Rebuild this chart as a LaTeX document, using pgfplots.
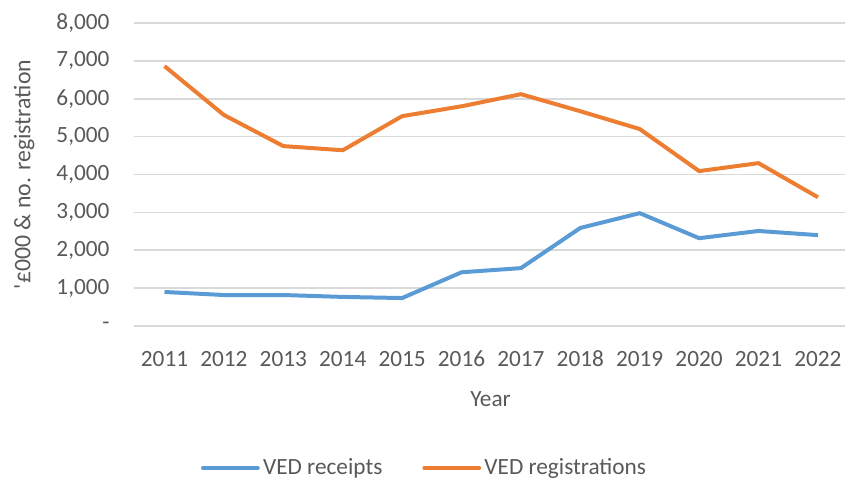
\documentclass[border=0pt]{standalone}
\usepackage{pgfplots}
\pgfplotsset{compat=1.18}
\usepackage{fontspec}
\setmainfont{Carlito}
\definecolor{cblue}{HTML}{5B9BD5}
\definecolor{corange}{HTML}{ED7D31}
\definecolor{cgrid}{HTML}{D9D9D9}
\definecolor{ctext}{HTML}{595959}
\newcommand{\fs}{\fontsize{14}{17}\selectfont}
\newcommand{\fsl}{\fontsize{14.3}{17}\selectfont}
\begin{document}
\begin{tikzpicture}
\begin{axis}[
  scale only axis,
  width=427.8pt, height=182.4pt,
  xmin=2010.48, xmax=2022.45,
  ymin=0, ymax=8000,
  xtick={2011,...,2022},
  xticklabels={2011,2012,2013,2014,2015,2016,2017,2018,2019,2020,2021,2022},
  ytick={0,1000,...,8000},
  yticklabels={{-},{1,000},{2,000},{3,000},{4,000},{5,000},{6,000},{7,000},{8,000}},
  axis line style={draw=none},
  major tick style={draw=none},
  ymajorgrids,
  grid style={cgrid, line width=1pt},
  ticklabel style={font=\fs, text=ctext},
  xticklabel style={yshift=-11pt, text height=10pt, text depth=0pt},
  yticklabel style={xshift=-11pt},
  xlabel={Year},
  ylabel={\textquotesingle£000 \& no. registration},
  label style={font=\fs, text=ctext},
  xlabel style={at={(axis description cs:0.502,-0.241)}, anchor=center},
  ylabel style={font=\fsl, at={(axis description cs:-0.154,0.5)}, anchor=center},
  legend columns=2,
  legend style={at={(0.41,-0.468)}, anchor=center, draw=none, font=\fs, text=ctext,
    /tikz/every even column/.append style={column sep=22pt}},
  legend image code/.code={\draw[#1, line cap=round] (0cm,0cm) -- (33pt,0cm);},
]
\coordinate (O) at (axis description cs:0,0);
\addplot[cblue, line width=2.4pt, line join=round] coordinates {
(2011,900) (2012,820) (2013,820) (2014,770) (2015,740) (2016,1420)
(2017,1530) (2018,2590) (2019,2980) (2020,2320) (2021,2510) (2022,2400)};
\addlegendentry{VED receipts}
\addplot[corange, line width=2.4pt, line join=round] coordinates {
(2011,6860) (2012,5570) (2013,4750) (2014,4640) (2015,5540) (2016,5800)
(2017,6120) (2018,5670) (2019,5200) (2020,4090) (2021,4300) (2022,3400)};
\addlegendentry{VED registrations}
\end{axis}
\path (O) ++(-80.4pt,-93pt);
\path (O) ++(-80.4pt,196.2pt);
\end{tikzpicture}
\end{document}
